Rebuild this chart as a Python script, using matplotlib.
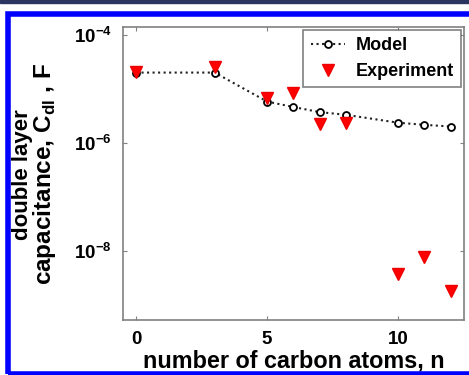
import matplotlib
matplotlib.use("Agg")
import matplotlib.pyplot as plt
from matplotlib.patches import Rectangle

plt.rcParams['font.family'] = ['Liberation Sans', 'DejaVu Sans']
plt.rcParams['mathtext.fontset'] = 'custom'
plt.rcParams['mathtext.rm'] = 'Liberation Sans:bold'
plt.rcParams['mathtext.bf'] = 'Liberation Sans:bold'

# carbon chain length
n_model = [0, 3, 5, 6, 7, 8, 10, 11, 12]
c_model = [2.0e-5, 2.0e-5, 5.8e-6, 4.6e-6, 3.7e-6, 3.3e-6, 2.35e-6, 2.15e-6, 2.0e-6]

n_exp = [0, 3, 5, 6, 7, 8, 10, 11, 12]
c_exp = [2.05e-5, 2.55e-5, 6.8e-6, 8.5e-6, 2.2e-6, 2.3e-6, 3.7e-9, 7.7e-9, 1.75e-9]

x_ticks = [0, 5, 10]
y_ticks = [1e-8, 1e-6, 1e-4]
y_ticklabels = [r'$\mathbf{10^{-8}}$', r'$\mathbf{10^{-6}}$', r'$\mathbf{10^{-4}}$']

fig = plt.figure(figsize=(4.69, 3.75), dpi=100)

# frame around the figure
fig.patches.append(Rectangle((0, 0.993), 1, 0.007, transform=fig.transFigure,
                             color='#2b3660', zorder=0))
fig.patches.append(Rectangle((0.016, 0.004), 1.0, 0.96, transform=fig.transFigure,
                             fill=False, edgecolor='#0000ff', linewidth=4, zorder=0))

ax = fig.add_axes([0.262, 0.147, 0.727, 0.781])
ax.set_yscale('log')

ax.plot(n_model, c_model, linestyle=':', color='#202020', linewidth=1.5,
        marker='o', markersize=5, markerfacecolor='white',
        markeredgecolor='black', markeredgewidth=1.3, label='Model')
ax.plot(n_exp, c_exp, linestyle='none', marker='v', markersize=9,
        color='#ff0000', markeredgecolor='#ee0000', label='Experiment')

ax.set_xlim(-0.5, 12.5)
ax.set_ylim(5.2e-10, 1.4e-4)
ax.set_xticks(x_ticks)
ax.set_xticklabels([str(t) for t in x_ticks])
ax.set_yticks(y_ticks)
ax.set_yticklabels(y_ticklabels)
ax.yaxis.set_minor_locator(matplotlib.ticker.NullLocator())

ax.tick_params(direction='in', top=True, right=True, length=3,
               color='#808080', labelsize=13.5, pad=8)
for lbl in ax.get_xticklabels():
    lbl.set_fontweight('bold')
for sp in ax.spines.values():
    sp.set_color('#808080')
    sp.set_linewidth(1.2)

ax.set_xlabel('number of carbon atoms, n', fontsize=16.8, fontweight='bold', labelpad=1)

# two-line y label
fig.text(0.047, 0.533, 'double layer', rotation=90, ha='center', va='center',
         fontsize=16, fontweight='bold')
fig.text(0.094, 0.536, 'capacitance, C$_{\\mathbf{dl}}$ , F', rotation=90,
         ha='center', va='center', fontsize=17.5, fontweight='bold')

leg = ax.legend(loc='upper right', prop={'weight': 'bold', 'size': 13},
                frameon=True, fancybox=False, borderaxespad=0.15,
                handlelength=1.9, handletextpad=0.6, labelspacing=0.5)
leg.get_frame().set_edgecolor('#606060')
leg.get_frame().set_linewidth(1.2)

fig.savefig('out.png', dpi=100)
